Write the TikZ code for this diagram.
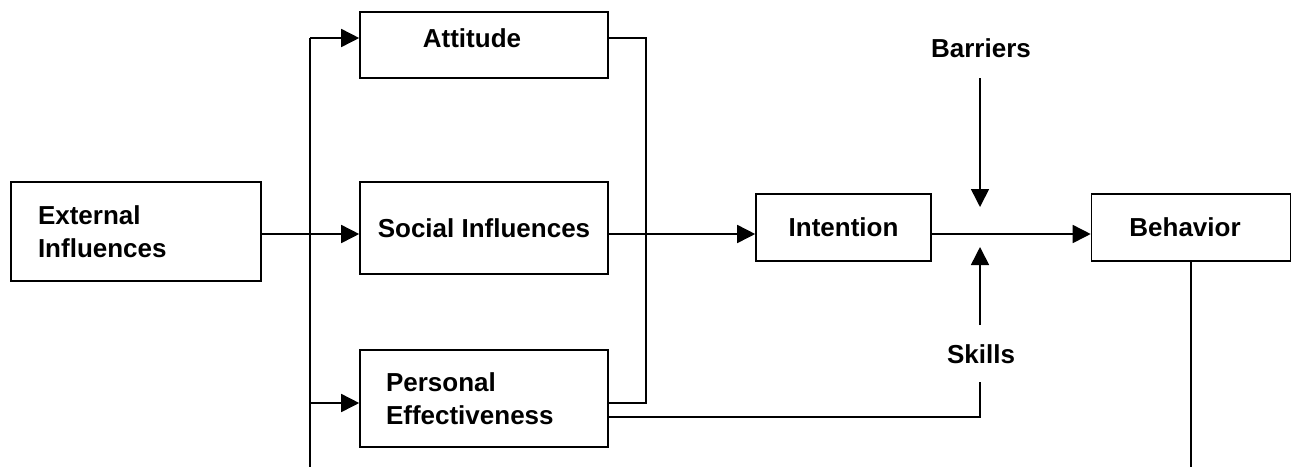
\documentclass[tikz,border=0pt]{standalone}
\usepackage{fontspec}
\setmainfont{Liberation Sans}
\usetikzlibrary{arrows.meta, positioning}

\begin{document}
\begin{tikzpicture}[
      x=1pt, y=-1pt,
      line width=1.6pt,
      font=\bfseries\fontsize{26}{33}\selectfont,
      box/.style={rectangle, draw=black, inner sep=0pt, align=center},
      leftbox/.style={box, align=left, inner xsep=26pt, text width=196pt},
      arrow/.style={-{Triangle[length=18pt, width=18pt]}},
    ]
    \useasboundingbox (0,0) rectangle (1292,467);

    \node[leftbox, inner xsep=27pt, minimum height=99pt] (ext) at (136,231.5) {External\\Influences};
    \node[box, minimum width=248pt, minimum height=66pt] (att) at (484,45) {\raisebox{14pt}{Attitude}\hspace*{24pt}};
    \node[box, minimum width=248pt, minimum height=92pt] (soc) at (484,228) {Social Influences};
    \node[leftbox, minimum height=97pt] (per) at (484,398.5) {Personal\\Effectiveness};
    \node[box, minimum width=175pt, minimum height=67pt] (int) at (843.5,227.5) {Intention};
    \node[box, minimum width=199pt, minimum height=67pt] (beh) at (1191,227.5) {Behavior\hspace*{12pt}};
    \node (bar) at (981,48) {Barriers};
    \node (skl) at (981,354) {Skills};

    \coordinate (axis) at (0,234);
    \coordinate (trunk) at (310,38);
    \coordinate (trunkend) at (310,467);
    \coordinate (pertap) at (310,403);
    \coordinate (join) at (646,403);
    \coordinate (bartail) at (980,78);
    \coordinate (bartip) at (980,207);
    \coordinate (skltail) at (980,325);
    \coordinate (skltip) at (980,247);
    \coordinate (sklfoot) at (980,382);
    \coordinate (sklline) at (0,417);

    \draw (trunk) -- (trunkend);
    \draw[arrow] (trunk) -- (att.west |- trunk);
    \draw[arrow] (ext.east |- axis) -- (soc.west |- axis);
    \draw[arrow] (pertap) -- (per.west |- pertap);
    \draw (att.east |- trunk) -| (join) -- (per.east |- join);
    \draw[arrow] (soc.east |- axis) -- (int.west |- axis);
    \draw[arrow] (int.east |- axis) -- (beh.west |- axis);
    \draw[arrow] (bartail) -- (bartip);
    \draw[arrow] (skltail) -- (skltip);
    \draw (per.east |- sklline) -| (sklfoot);
    \draw (beh.south) -- (beh.south |- trunkend);
  \end{tikzpicture}
\end{document}
